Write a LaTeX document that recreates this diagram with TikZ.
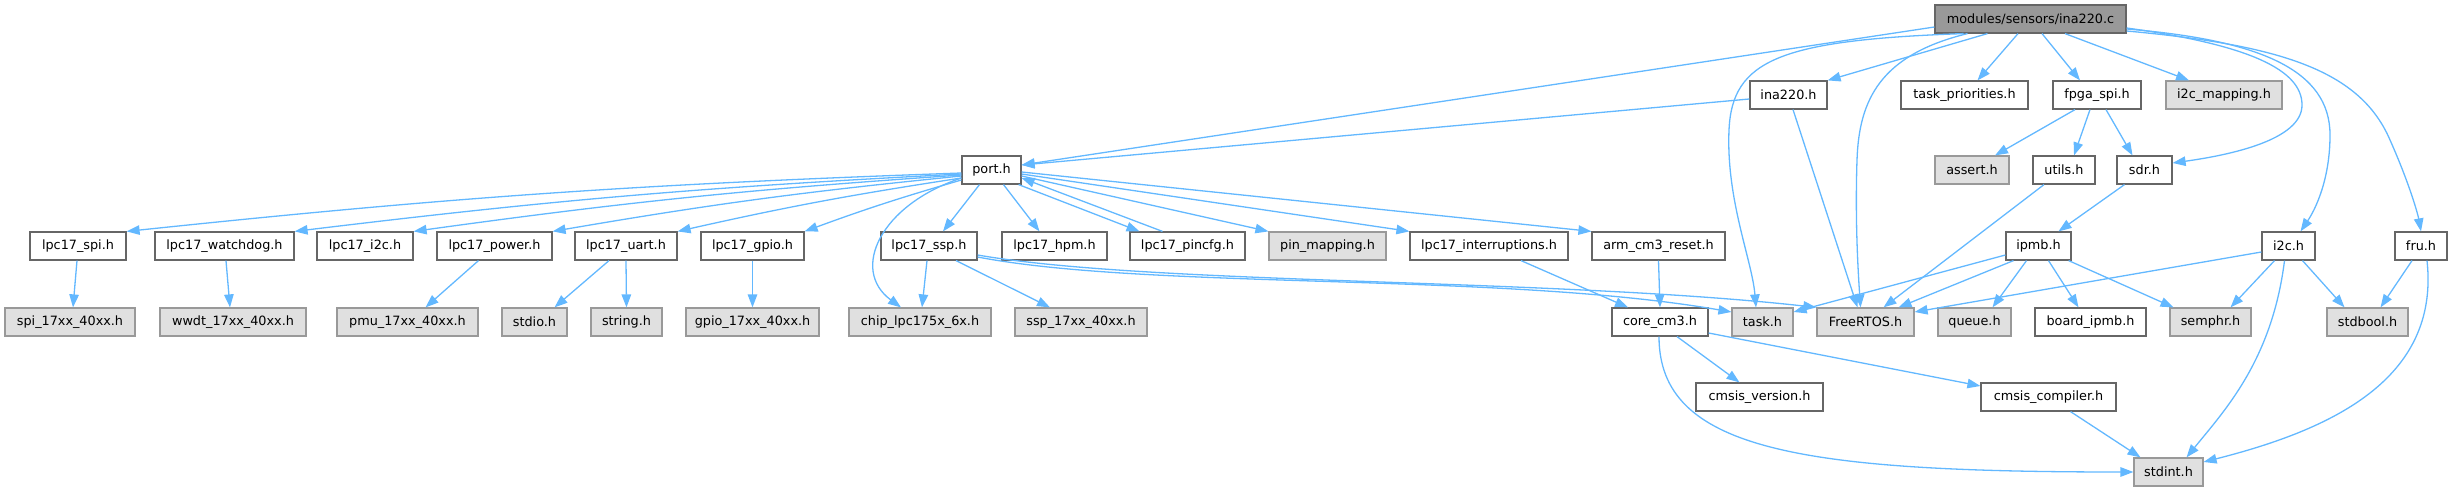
\documentclass[tikz,border=0pt]{standalone}
\usepackage{fontspec}
\setmainfont{DejaVu Sans}
\usetikzlibrary{arrows.meta}
\definecolor{edgec}{HTML}{63B8FF}
\definecolor{bordw}{HTML}{666666}
\definecolor{extf}{HTML}{E0E0E0}
\definecolor{extb}{HTML}{999999}
\definecolor{rootf}{HTML}{999999}
\begin{document}
\begin{tikzpicture}[x=1pt,y=-1pt,
  box/.style={rectangle, draw=bordw, fill=white, line width=1.2pt, inner sep=0pt,
    minimum height=28pt, font=\fontsize{12.8}{15}\selectfont, text=black},
  ext/.style={box, draw=extb, fill=extf},
  rootbox/.style={box, draw=bordw, fill=rootf},
  e/.style={draw=edgec, line width=1.3pt, -{Triangle[length=13pt,width=9.5pt]}}]
\useasboundingbox (0,0) rectangle (2452,492);
% row 1
\node[rootbox, minimum width=191pt] (root) at (2030.5,19) {modules/sensors/ina220.c};
% row 2
\node[box, minimum width=77pt] (inah) at (1788.5,95) {ina220.h};
\node[box, minimum width=127pt] (taskp) at (1964.5,95) {task\_priorities.h};
\node[box, minimum width=88pt] (fpga) at (2097,95) {fpga\_spi.h};
\node[ext, minimum width=116pt] (i2cmap) at (2224,95) {i2c\_mapping.h};
% port row
\node[box, minimum width=59pt] (port) at (991.5,170) {port.h};
\node[ext, minimum width=74pt] (assert) at (1972,170) {assert.h};
\node[box, minimum width=62pt] (utils) at (2064,170) {utils.h};
\node[box, minimum width=55pt] (sdr) at (2144.5,170) {sdr.h};
% row 3
\node[box, minimum width=96pt] (lspi) at (78,246) {lpc17\_spi.h};
\node[box, minimum width=139pt] (lwd) at (224.5,246) {lpc17\_watchdog.h};
\node[box, minimum width=96pt] (li2c) at (365,246) {lpc17\_i2c.h};
\node[box, minimum width=115pt] (lpow) at (494.5,246) {lpc17\_power.h};
\node[box, minimum width=102pt] (luart) at (626,246) {lpc17\_uart.h};
\node[box, minimum width=103pt] (lgpio) at (752.5,246) {lpc17\_gpio.h};
\node[box, minimum width=96pt] (lssp) at (929,246) {lpc17\_ssp.h};
\node[box, minimum width=105pt] (lhpm) at (1054.5,246) {lpc17\_hpm.h};
\node[box, minimum width=115pt] (lpin) at (1187.5,246) {lpc17\_pincfg.h};
\node[ext, minimum width=117pt] (pinmap) at (1327.5,246) {pin\_mapping.h};
\node[box, minimum width=158pt] (lint) at (1489,246) {lpc17\_interruptions.h};
\node[box, minimum width=133pt] (arm) at (1658.5,246) {arm\_cm3\_reset.h};
\node[box, minimum width=65pt] (ipmb) at (2038.5,246) {ipmb.h};
\node[box, minimum width=53pt] (i2c) at (2288.5,246) {i2c.h};
\node[box, minimum width=52pt] (fru) at (2421,246) {fru.h};
% row 4
\node[ext, minimum width=130pt] (spi17) at (70,322) {spi\_17xx\_40xx.h};
\node[ext, minimum width=146pt] (wwdt) at (233,322) {wwdt\_17xx\_40xx.h};
\node[ext, minimum width=141pt] (pmu) at (407.5,322) {pmu\_17xx\_40xx.h};
\node[ext, minimum width=65pt] (stdio) at (534.5,322) {stdio.h};
\node[ext, minimum width=71pt] (string) at (626.5,322) {string.h};
\node[ext, minimum width=133pt] (gpio17) at (752.5,322) {gpio\_17xx\_40xx.h};
\node[ext, minimum width=142pt] (chip) at (920,322) {chip\_lpc175x\_6x.h};
\node[ext, minimum width=132pt] (ssp17) at (1081,322) {ssp\_17xx\_40xx.h};
\node[box, minimum width=96pt] (core) at (1660,322) {core\_cm3.h};
\node[ext, minimum width=61pt] (task) at (1762.5,322) {task.h};
\node[ext, minimum width=97pt] (freertos) at (1865.5,322) {FreeRTOS.h};
\node[ext, minimum width=73pt] (queue) at (1974.5,322) {queue.h};
\node[box, minimum width=111pt] (bipmb) at (2090.5,322) {board\_ipmb.h};
\node[ext, minimum width=81pt] (semphr) at (2210.5,322) {semphr.h};
\node[ext, minimum width=81pt] (stdbool) at (2367.5,322) {stdbool.h};
% row 5
\node[box, minimum width=127pt] (cver) at (1759.5,397) {cmsis\_version.h};
\node[box, minimum width=135pt] (ccomp) at (2048.5,397) {cmsis\_compiler.h};
% row 6
\node[ext, minimum width=69pt] (stdint) at (2168.5,472) {stdint.h};

% edges from root
\draw[e] ([yshift=-8pt]root.west) -- ([yshift=5pt]port.east);
\draw[e] ([xshift=-43pt]root.south) -- (inah.north east);
\draw[e] ([xshift=-12.5pt]root.south) -- ([xshift=13pt]taskp.north);
\draw[e] ([xshift=11.5pt]root.south) -- ([xshift=-17pt]fpga.north);
\draw[e] ([xshift=34.5pt]root.south) -- ([xshift=-35pt]i2cmap.north);
\draw[e] ([yshift=-9pt]root.east) .. controls (2250,45) and (2302,70) .. (2302,105)
   .. controls (2302,140) and (2230,155) .. ([yshift=7pt]sdr.east);
\draw[e] ([yshift=-10pt]root.east) .. controls (2260,40) and (2330,70) .. (2330,135)
   .. controls (2330,180) and (2315,210) .. ([xshift=12pt]i2c.north);
\draw[e] ([yshift=-12pt]root.east) .. controls (2280,45) and (2360,70) .. (2390,140)
   .. controls (2410,185) and (2418,215) .. (fru.north);
\draw[e] ([xshift=-67pt]root.south) .. controls (1780,40) and (1732,60) .. (1729,130)
   .. controls (1726,200) and (1752,260) .. ([xshift=-6.5pt]task.north);
\draw[e] ([xshift=-63pt]root.south) .. controls (1880,55) and (1859,100) .. (1857,160)
   .. controls (1855,220) and (1858,270) .. ([xshift=-5pt]freertos.north);
% ina220.h
\draw[e] ([yshift=-4pt]inah.west) -- ([yshift=5pt]port.east);
\draw[e] ([xshift=4.5pt]inah.south) -- ([xshift=-8pt]freertos.north);
% fpga_spi.h, sdr.h, utils.h
\draw[e] ([xshift=-22pt]fpga.south) -- ([xshift=23pt]assert.north);
\draw[e] ([xshift=-7pt]fpga.south) -- ([xshift=10pt]utils.north);
\draw[e] ([xshift=9pt]fpga.south) -- ([xshift=-12pt]sdr.north);
\draw[e] ([xshift=-20pt]sdr.south) -- ([xshift=20pt]ipmb.north);
\draw[e] ([xshift=-20pt]utils.south) -- ([xshift=18pt]freertos.north);
% ipmb.h
\draw[e] ([yshift=-9pt]ipmb.west) -- ([yshift=10pt]task.east);
\draw[e] ([xshift=-25pt]ipmb.south) -- ([xshift=33pt]freertos.north);
\draw[e] ([xshift=-12pt]ipmb.south) -- ([xshift=18pt]queue.north);
\draw[e] ([xshift=10pt]ipmb.south) -- ([xshift=-12pt]bipmb.north);
\draw[e] ([xshift=-3pt]ipmb.south east) -- ([xshift=-37pt]semphr.north);
% i2c.h
\draw[e] ([yshift=-6pt]i2c.west) -- ([yshift=10pt]freertos.east);
\draw[e] ([xshift=-14pt]i2c.south) -- ([xshift=20pt]semphr.north);
\draw[e] ([xshift=14pt]i2c.south) -- ([xshift=-23pt]stdbool.north);
\draw[e] ([xshift=-4pt]i2c.south) .. controls (2272,360) and (2225,410) .. ([xshift=18pt]stdint.north);
% fru.h
\draw[e] ([xshift=-9pt]fru.south) -- ([xshift=13pt]stdbool.north);
\draw[e] ([xshift=6pt]fru.south) .. controls (2440,380) and (2330,430) .. ([yshift=10pt]stdint.east);
% cmsis / core
\draw[e] ([xshift=22pt]ccomp.south) -- ([xshift=-28pt]stdint.north);
\draw[e] ([xshift=-1pt]core.south) .. controls (1659,450) and (1800,472) .. (stdint.west);
\draw[e] ([xshift=17pt]core.south) -- ([xshift=-20pt]cver.north);
\draw[e] ([yshift=-11pt]core.east) -- ([yshift=11pt]ccomp.west);
\draw[e] (arm.south) -- (core.north);
\draw[e] ([xshift=32pt]lint.south) -- ([xshift=-32pt]core.north);
% lpc17_ssp.h
\draw[e] ([yshift=-11pt]lssp.east) .. controls (1150,290) and (1500,272) .. ([yshift=10pt]task.west);
\draw[e] ([yshift=-9pt]lssp.east) .. controls (1150,285) and (1550,278) .. (freertos.north west);
\draw[e] ([xshift=-2pt]lssp.south) -- ([xshift=2pt]chip.north);
\draw[e] ([xshift=27pt]lssp.south) -- ([xshift=-31pt]ssp17.north);
% port.h
\draw[e] ([yshift=-8pt]port.west) .. controls (880,205) and (850,270) .. ([xshift=-19pt]chip.north);
\draw[e] ([xshift=-12pt]port.south) -- ([xshift=14pt]lssp.north);
\draw[e] ([xshift=12pt]port.south) -- ([xshift=-15pt]lhpm.north);
\draw[e] ([xshift=-3pt]port.south east) -- ([xshift=-48pt]lpin.north);
\draw[e] ([xshift=-25pt]lpin.north) -- ([yshift=-8pt]port.east);
\draw[e] ([yshift=-6pt]port.east) -- (pinmap.north west);
\draw[e] ([yshift=-4pt]port.east) -- (lint.north west);
\draw[e] ([yshift=-2pt]port.east) -- (arm.north west);
\draw[e] ([yshift=-3pt]port.west) to[bend right=2] (lspi.north east);
\draw[e] ([yshift=-4pt]port.west) to[bend right=2] (lwd.north east);
\draw[e] ([yshift=-5pt]port.west) to[bend right=2] (li2c.north east);
\draw[e] ([yshift=-6pt]port.west) to[bend right=2] (lpow.north east);
\draw[e] ([yshift=-8pt]port.west) to[bend right=2] (luart.north east);
\draw[e] ([yshift=-10pt]port.west) to[bend right=2] (lgpio.north east);
% row 3 to row 4
\draw[e] ([xshift=-1pt]lspi.south) -- ([xshift=3pt]spi17.north);
\draw[e] ([xshift=1.5pt]lwd.south) -- ([xshift=-3pt]wwdt.north);
\draw[e] ([xshift=-16pt]lpow.south) -- ([xshift=18pt]pmu.north);
\draw[e] ([xshift=-17pt]luart.south) -- ([xshift=20pt]stdio.north);
\draw[e] (luart.south) -- (string.north);
\draw[e] (lgpio.south) -- (gpio17.north);
\end{tikzpicture}
\end{document}
